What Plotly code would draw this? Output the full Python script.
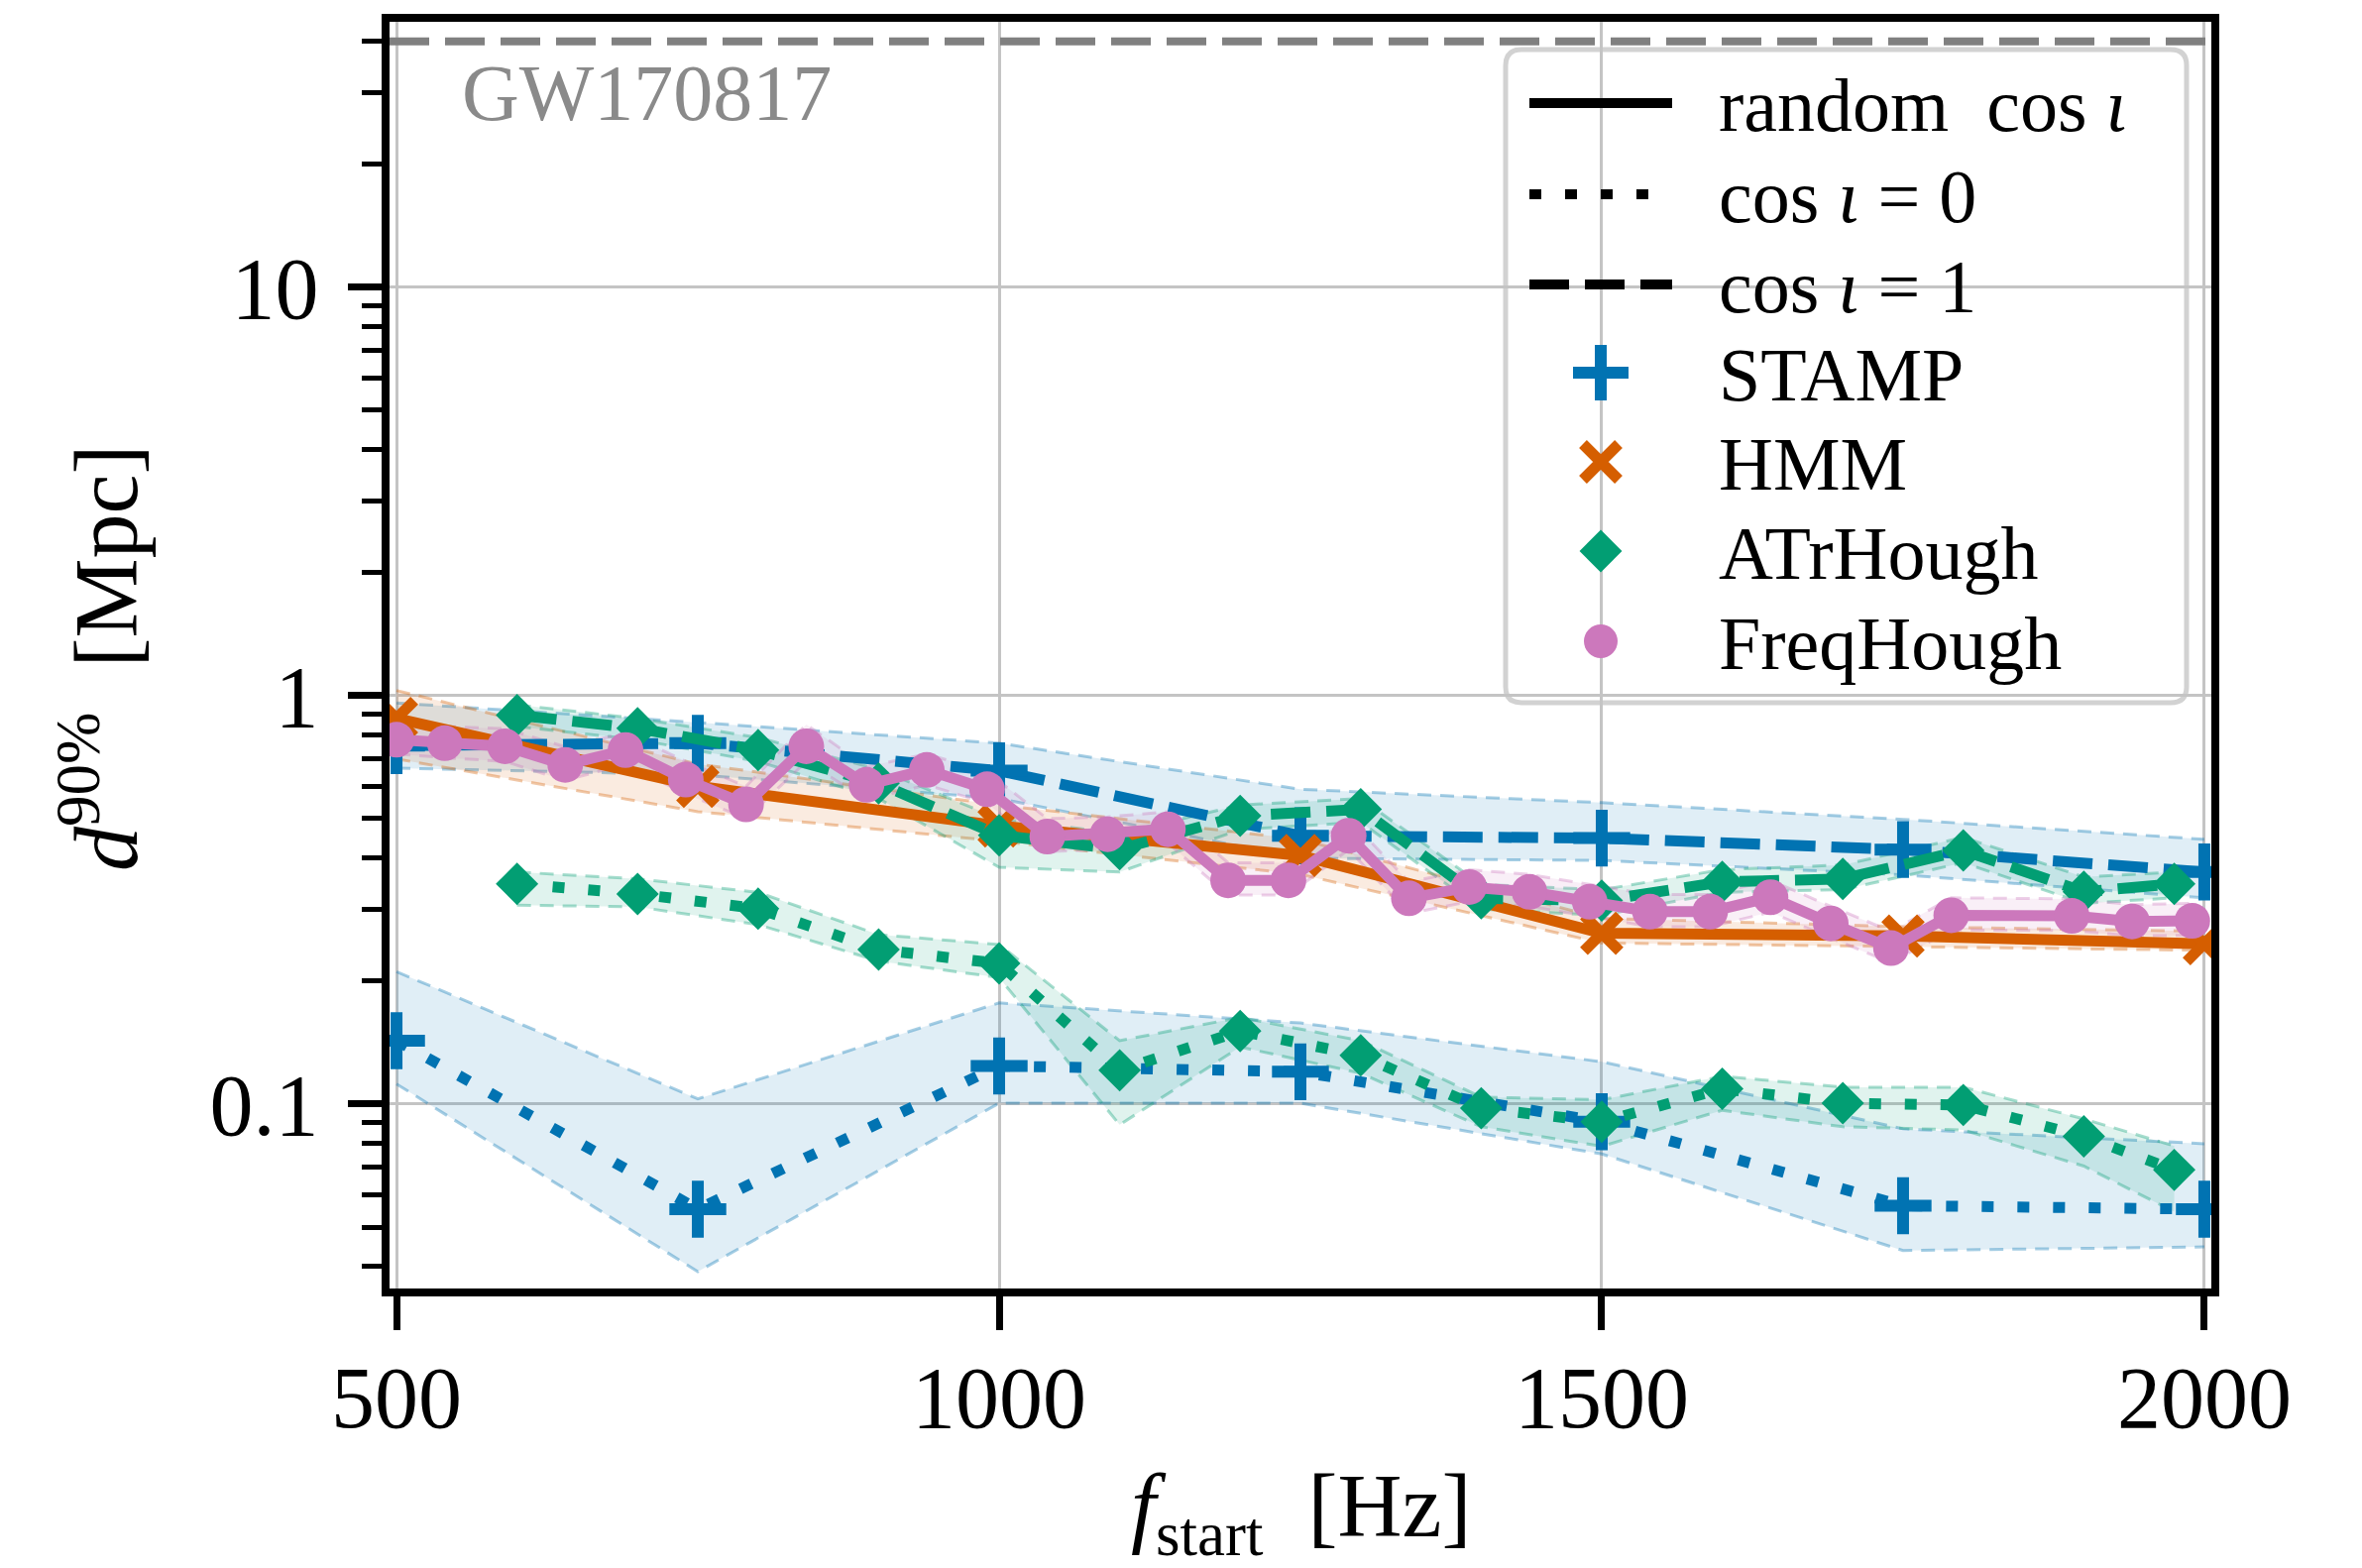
import plotly.graph_objects as go

# ------------------------------------------------------------------ data
GW_DIST = 40.0
GW_LABEL = "GW170817"

STAMP_F = [500, 750, 1000, 1250, 1500, 1750, 2000]
STAMP_FACEON = [0.755, 0.765, 0.655, 0.454, 0.448, 0.420, 0.370]
STAMP_FACEON_HI = [0.96, 0.86, 0.765, 0.59, 0.547, 0.498, 0.445]
STAMP_FACEON_LO = [0.665, 0.64, 0.56, 0.40, 0.395, 0.364, 0.32]
STAMP_EDGEON = [0.143, 0.0553, 0.124, 0.120, 0.0905, 0.0564, 0.0553]
STAMP_EDGEON_HI = [0.211, 0.103, 0.177, 0.158, 0.127, 0.087, 0.080]
STAMP_EDGEON_LO = [0.112, 0.0389, 0.1005, 0.1005, 0.0755, 0.0438, 0.0447]

HMM_F = [500, 750, 1000, 1250, 1500, 1750, 2000]
HMM_RAND = [0.88, 0.60, 0.48, 0.406, 0.262, 0.258, 0.247]
HMM_RAND_HI = [1.03, 0.68, 0.54, 0.445, 0.285, 0.272, 0.265]
HMM_RAND_LO = [0.70, 0.52, 0.44, 0.365, 0.248, 0.243, 0.238]

ATR_F = [600, 700, 800, 900, 1000, 1100, 1200, 1300, 1400, 1500, 1600, 1700, 1800, 1900, 1975]
ATR_FACEON = [0.896, 0.832, 0.736, 0.61, 0.455, 0.421, 0.508, 0.527, 0.319, 0.315, 0.35, 0.356, 0.418, 0.331, 0.346]
ATR_FACEON_HI = [0.95, 0.88, 0.79, 0.66, 0.50, 0.46, 0.54, 0.56, 0.345, 0.335, 0.375, 0.385, 0.45, 0.36, 0.37]
ATR_FACEON_LO = [0.84, 0.78, 0.69, 0.56, 0.38, 0.37, 0.47, 0.49, 0.30, 0.29, 0.33, 0.335, 0.39, 0.31, 0.32]
ATR_EDGEON = [0.346, 0.327, 0.301, 0.239, 0.221, 0.121, 0.151, 0.1316, 0.0977, 0.0905, 0.109, 0.1005, 0.0995, 0.0834, 0.069]
ATR_EDGEON_HI = [0.37, 0.356, 0.33, 0.26, 0.246, 0.143, 0.163, 0.143, 0.104, 0.1025, 0.117, 0.110, 0.110, 0.092, 0.079]
ATR_EDGEON_LO = [0.307, 0.304, 0.275, 0.224, 0.204, 0.089, 0.138, 0.119, 0.088, 0.0788, 0.0966, 0.088, 0.0864, 0.0705, 0.0545]

FH_F = [500, 540, 590, 640, 690, 740, 790, 840, 890, 940, 990, 1040, 1090, 1140, 1190,
        1240, 1290, 1340, 1390, 1440, 1490, 1540, 1590, 1640, 1690, 1740, 1790, 1890, 1940, 1990]
FH_RAND = [0.78, 0.765, 0.752, 0.677, 0.736, 0.623, 0.542, 0.752, 0.605, 0.658, 0.59, 0.452, 0.458, 0.471, 0.353,
           0.353, 0.454, 0.319, 0.34, 0.331, 0.313, 0.296, 0.296, 0.321, 0.277, 0.241, 0.29, 0.289, 0.28, 0.281]
FH_RAND_HI = [0.85, 0.84, 0.83, 0.75, 0.81, 0.69, 0.60, 0.85, 0.67, 0.72, 0.65, 0.50, 0.505, 0.52, 0.39,
              0.39, 0.50, 0.35, 0.375, 0.365, 0.345, 0.326, 0.326, 0.353, 0.305, 0.265, 0.32, 0.318, 0.308, 0.31]
FH_RAND_LO = [0.72, 0.705, 0.69, 0.62, 0.68, 0.575, 0.50, 0.69, 0.555, 0.605, 0.545, 0.415, 0.42, 0.435, 0.325,
              0.325, 0.42, 0.293, 0.313, 0.305, 0.288, 0.272, 0.272, 0.295, 0.255, 0.222, 0.267, 0.266, 0.258, 0.259]

X_TICKS = [500, 1000, 1500, 2000]
Y_TICKS = [0.1, 1, 10]
Y_TICK_TEXT = ["0.1", "1", "10"]
Y_MINOR = [0.04, 0.05, 0.06, 0.07, 0.08, 0.09, 0.2, 0.3, 0.4, 0.5, 0.6, 0.7, 0.8, 0.9,
           2, 3, 4, 5, 6, 7, 8, 9, 20, 30, 40]

LINESTYLE_LABELS = ["random  cos <i>ι</i>", "cos <i>ι</i> = 0", "cos <i>ι</i> = 1"]
METHOD_LABELS = ["STAMP", "HMM", "ATrHough", "FreqHough"]

# ------------------------------------------------------------------ style
BLUE, ORANGE, GREEN, PINK = "#0173B2", "#D55E00", "#029E73", "#CC78BC"
FONT = "Liberation Serif"
X_RANGE = [494.2, 2005.8]
Y_RANGE_LOG = [-1.4515, 1.650]
DOT = "12px,24px"
DASH = "40px,16px"
BAND_DASH = "14px,9px"
LW = 11


def rgba(hexc, a):
    h = hexc.lstrip("#")
    return "rgba(%d,%d,%d,%.3f)" % (int(h[0:2], 16), int(h[2:4], 16), int(h[4:6], 16), a)


MARK = {
    BLUE: dict(symbol="cross-thin", size=41, line=dict(width=12, color=BLUE)),
    ORANGE: dict(symbol="x-thin", size=36, line=dict(width=11, color=ORANGE)),
    GREEN: dict(symbol="diamond", size=33, line=dict(width=0)),
    PINK: dict(symbol="circle", size=36, line=dict(width=0)),
}

fig = go.Figure()


def add_band(f, lo, hi, color):
    edge = dict(color=rgba(color, 0.35), width=3, dash=BAND_DASH)
    fig.add_trace(go.Scatter(x=f, y=hi, mode="lines", line=edge,
                             showlegend=False, hoverinfo="skip"))
    fig.add_trace(go.Scatter(x=f, y=lo, mode="lines", line=edge, fill="tonexty",
                             fillcolor=rgba(color, 0.12), showlegend=False, hoverinfo="skip"))


def add_line(f, v, color, dash):
    m = dict(MARK[color])
    m["color"] = color
    fig.add_trace(go.Scatter(x=f, y=v, mode="lines+markers",
                             line=dict(color=color, width=LW, dash=dash),
                             marker=m, showlegend=False))


# bands
add_band(STAMP_F, STAMP_FACEON_LO, STAMP_FACEON_HI, BLUE)
add_band(STAMP_F, STAMP_EDGEON_LO, STAMP_EDGEON_HI, BLUE)
add_band(HMM_F, HMM_RAND_LO, HMM_RAND_HI, ORANGE)
add_band(ATR_F, ATR_FACEON_LO, ATR_FACEON_HI, GREEN)
add_band(ATR_F, ATR_EDGEON_LO, ATR_EDGEON_HI, GREEN)
add_band(FH_F, FH_RAND_LO, FH_RAND_HI, PINK)

# GW170817 distance
fig.add_trace(go.Scatter(x=X_RANGE, y=[GW_DIST, GW_DIST], mode="lines",
                         line=dict(color="#808080", width=8, dash=DASH),
                         showlegend=False, hoverinfo="skip"))

# central lines
add_line(STAMP_F, STAMP_FACEON, BLUE, DASH)
add_line(STAMP_F, STAMP_EDGEON, BLUE, DOT)
add_line(HMM_F, HMM_RAND, ORANGE, "solid")
add_line(ATR_F, ATR_FACEON, GREEN, DASH)
add_line(ATR_F, ATR_EDGEON, GREEN, DOT)
add_line(FH_F, FH_RAND, PINK, "solid")

# ------------------------------------------------------------------ layout geometry
W, H = 2383, 1582
L, R, T, B = 393, 152, 22, 282
PW, PH = W - L - R, H - T - B


def px(xp):
    return (xp - L) / PW


def py(yp):
    return (H - B - yp) / PH


axis_common = dict(
    showline=True, linecolor="black", linewidth=8, mirror=True,
    ticks="outside", tickcolor="black", tickwidth=7, ticklen=34,
    showgrid=True, gridcolor="#c4c4c4", gridwidth=2.5, zeroline=False,
    tickfont=dict(family=FONT, size=88, color="black"),
)

fig.update_layout(
    width=W, height=H,
    margin=dict(l=L, r=R, t=T, b=B),
    paper_bgcolor="white", plot_bgcolor="white",
    showlegend=False,
    xaxis=dict(range=X_RANGE, tickmode="array", tickvals=X_TICKS,
               ticklabelstandoff=-8, **axis_common),
    yaxis=dict(type="log", range=Y_RANGE_LOG, tickmode="array", tickvals=Y_TICKS,
               ticktext=Y_TICK_TEXT, ticklabelstandoff=12,
               minor=dict(tickmode="array", tickvals=Y_MINOR, ticks="outside",
                          ticklen=20, tickwidth=5, tickcolor="black", showgrid=False),
               **axis_common),
    xaxis2=dict(domain=[0, 1], range=[0, 1], overlaying="x", anchor="y2", visible=False),
    yaxis2=dict(domain=[0, 1], range=[0, 1], overlaying="y", anchor="x2", visible=False),
)

annotations = [
    dict(text="<i>f</i><sub>start</sub>  [Hz]", xref="paper", yref="paper",
         x=0.5, y=py(1526), xanchor="center", yanchor="middle", showarrow=False,
         font=dict(family=FONT, size=90, color="black")),
    dict(text="<i>d</i><sup>90%</sup>  [Mpc]", xref="paper", yref="paper",
         x=px(101), y=py(664), xanchor="center", yanchor="middle", textangle=-90,
         showarrow=False, font=dict(family=FONT, size=90, color="black")),
    dict(text=GW_LABEL, xref="paper", yref="paper", x=px(464), y=py(94),
         xanchor="left", yanchor="middle", showarrow=False,
         font=dict(family=FONT, size=80, color="#8a8a8a")),
]

# ------------------------------------------------------------------ custom legend
bx0, bx1, by0, by1 = px(1519), px(2206), py(709), py(50)
rx, ry = 16 / PW, 16 / PH
box_path = (f"M{bx0+rx},{by1} L{bx1-rx},{by1} Q{bx1},{by1} {bx1},{by1-ry} "
            f"L{bx1},{by0+ry} Q{bx1},{by0} {bx1-rx},{by0} L{bx0+rx},{by0} "
            f"Q{bx0},{by0} {bx0},{by0+ry} L{bx0},{by1-ry} Q{bx0},{by1} {bx0+rx},{by1} Z")
shapes = [dict(type="path", path=box_path, xref="paper", yref="paper",
               fillcolor="rgba(255,255,255,0.8)", line=dict(color="#d2d2d2", width=5),
               layer="between")]

row_y = [104, 196, 287, 376, 466, 556, 647]
line_x0, line_x1 = px(1543), px(1687)
for dash, yy in zip(["solid", DOT, DASH], row_y[:3]):
    shapes.append(dict(type="line", xref="paper", yref="paper",
                       x0=line_x0, x1=line_x1, y0=py(yy), y1=py(yy),
                       line=dict(color="black", width=10, dash=dash), layer="above"))

leg_sizes = {BLUE: 40, ORANGE: 36, GREEN: 33, PINK: 34}
for color, yy in zip([BLUE, ORANGE, GREEN, PINK], row_y[3:]):
    m = dict(MARK[color])
    m["color"] = color
    m["size"] = leg_sizes[color]
    fig.add_trace(go.Scatter(x=[px(1615)], y=[py(yy)], xaxis="x2", yaxis="y2",
                             mode="markers", marker=m, cliponaxis=False,
                             showlegend=False, hoverinfo="skip"))

for txt, yy in zip(LINESTYLE_LABELS + METHOD_LABELS, row_y):
    annotations.append(dict(text=txt, xref="paper", yref="paper", x=px(1732), y=py(yy + 2),
                            xanchor="left", yanchor="middle", showarrow=False,
                            font=dict(family=FONT, size=76, color="black")))

fig.update_layout(shapes=shapes, annotations=annotations)

fig.write_html("out.html")
